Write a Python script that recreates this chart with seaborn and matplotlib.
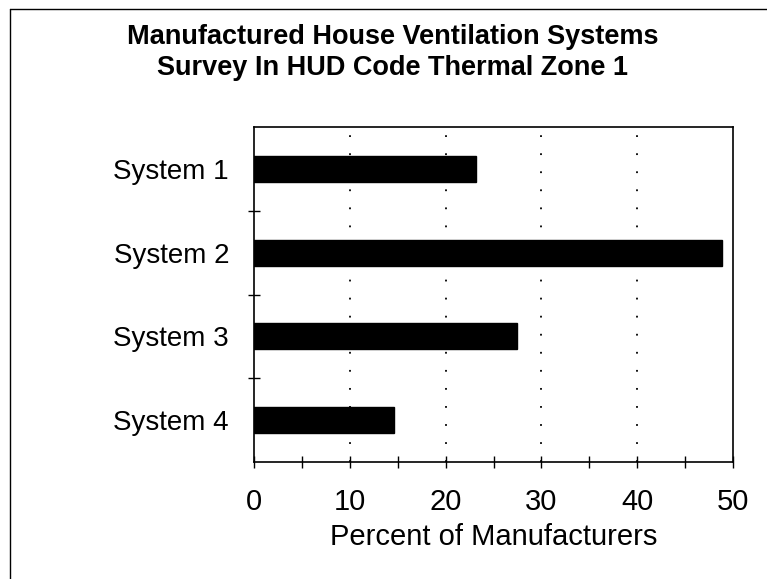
import matplotlib
matplotlib.use("Agg")
import matplotlib.pyplot as plt
from matplotlib.lines import Line2D
from matplotlib.ticker import MultipleLocator, FixedLocator
import seaborn as sns
import pandas as pd

categories = ["System 1", "System 2", "System 3", "System 4"]
percent = [23.2, 48.9, 27.5, 14.6]
x_ticks = [0, 10, 20, 30, 40, 50]
title_lines = ["Manufactured House Ventilation Systems",
               "Survey In HUD Code Thermal Zone 1"]
x_label = "Percent of Manufacturers"

sns.set_theme(style="white")
plt.rcParams['font.family'] = ['Liberation Sans', 'DejaVu Sans']
plt.rcParams['text.color'] = 'black'

df = pd.DataFrame({"System": categories, "Percent": percent})

fig = plt.figure(figsize=(7.67, 5.79), dpi=100)
ax = fig.add_axes([254/767, 1-462/579, (733-254)/767, (462-127)/579])

sns.barplot(data=df, x="Percent", y="System", orient="h", color="black",
            width=0.31, saturation=1, ax=ax, zorder=3)
for p in ax.patches:
    p.set_edgecolor("black")
    p.set_facecolor("black")

ax.set_xlim(0, 50)
ax.set_ylim(len(categories) - 0.5, -0.5)

for v in x_ticks[1:-1]:
    ax.axvline(v, color="black", linewidth=1.3, linestyle=(0, (1, 9)), zorder=1)

ax.xaxis.set_major_locator(FixedLocator(x_ticks))
ax.xaxis.set_minor_locator(MultipleLocator(5))
ax.set_xticklabels([str(t) for t in x_ticks])
ax.yaxis.set_minor_locator(FixedLocator([0.5, 1.5, 2.5]))

ax.tick_params(axis="x", which="both", direction="inout", length=9, width=1,
               color="black", bottom=True, labelsize=21, pad=14)
ax.tick_params(axis="y", which="major", length=0, labelsize=20, pad=18, left=True)
ax.tick_params(axis="y", which="minor", direction="inout", length=9, width=1,
               color="black", left=True)

ax.set_xlabel(x_label, fontsize=21, labelpad=5, color="black")
ax.set_ylabel("")
for lab in ax.get_xticklabels() + ax.get_yticklabels():
    lab.set_color("black")

for s in ax.spines.values():
    s.set_visible(True)
    s.set_color("black")
    s.set_linewidth(1.2)

fig.text(0.512, 1 - 37/579, title_lines[0], ha="center", va="center",
         fontsize=19.5, fontweight="bold", color="black")
fig.text(0.512, 1 - 68/579, title_lines[1], ha="center", va="center",
         fontsize=19.5, fontweight="bold", color="black")

# outer frame (top and left)
fig.add_artist(Line2D([10/767, 1.0], [1 - 9/579, 1 - 9/579], transform=fig.transFigure,
                      color="black", linewidth=1))
fig.add_artist(Line2D([10/767, 10/767], [0, 1 - 9/579], transform=fig.transFigure,
                      color="black", linewidth=1))

fig.savefig("out.png", dpi=100, facecolor="white")
